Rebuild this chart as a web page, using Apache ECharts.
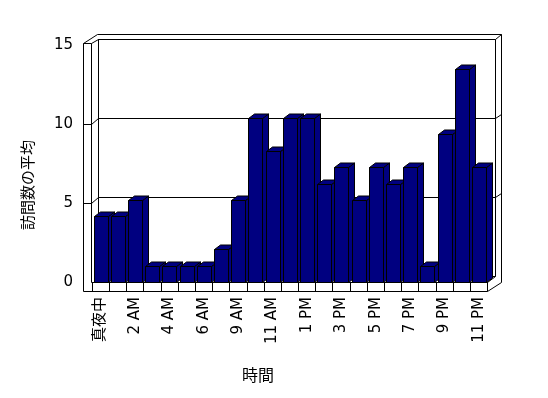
<!DOCTYPE html>
<html><head><meta charset="utf-8">
<script src="https://cdn.jsdelivr.net/npm/echarts@6/dist/echarts.min.js"></script>
<style>html,body{margin:0;padding:0;background:#fff}#c{width:548px;height:398px}</style>
</head><body><div id="c"></div>
<script>
const categories = ['真夜中','1 AM','2 AM','3 AM','4 AM','5 AM','6 AM','8 AM','9 AM','10 AM','11 AM','正午',
  '1 PM','2 PM','3 PM','4 PM','5 PM','6 PM','7 PM','8 PM','9 PM','10 PM','11 PM'];
const visits = [4,4,5,1,1,1,1,2,5,10,8,10,10,6,7,5,7,6,7,1,9,13,7];
const yTicks = [0,5,10,15];
const yTitle = '訪問数の平均';
const xTitle = '時間';

// frame layout (pixels)
const FL=83.5, FI=91.5, BL=98.5, BR=495.5, OR=501.5, FR=487.5;
const F0=282.5, F15=45.5, B0=276.5, B15=39.5, FLOOR=291.5, TOPO=34.5, LWTOP=43.5;
const yF = v => F0 - v*(F0-F15)/15;
const yB = v => B0 - v*(B0-B15)/15;
const DX=6, DY=-4.5;
const NAVY='#000080';

const lines = [];
function L(pts){ lines.push({type:'polyline', z:0, silent:true, shape:{points:pts}, style:{stroke:'#000', lineWidth:1, fill:null}}); }
// left wall front face
L([[FL,LWTOP],[FL,FLOOR]]);
L([[FI,LWTOP],[FI,F0]]);
L([[FL,LWTOP],[FI,LWTOP]]);
L([[FL,LWTOP],[BL-1,TOPO]]);
L([[FI,LWTOP],[BL,B15]]);
L([[BL-1,TOPO],[OR,TOPO]]);
// back wall
L([[BL,B15],[BR,B15]]);
L([[BL,B15],[BL,B0]]);
L([[BR,B15],[BR,B0]]);
L([[BR,B15],[OR,TOPO]]);
L([[OR,TOPO],[OR,F0]]);
// floor
L([[FL,FLOOR],[FR,FLOOR]]);
L([[FR,F0],[FR,FLOOR]]);
L([[FR,F0],[BR,B0]]);
L([[FR,FLOOR],[OR,F0]]);
// value ticks on walls
yTicks.forEach(v => {
  if (v>0 && v<15) {
    L([[FL,yF(v)],[FI,yF(v)]]);
    L([[FI,yF(v)],[BL,yB(v)]]);
    L([[BR,yB(v)],[OR,yB(v)-4]]);
  }
});

const chart = echarts.init(document.getElementById('c'), null, {renderer:'canvas'});
const numFont = {fontFamily:'DejaVu Sans', fontSize:15, color:'#000'};
chart.setOption({
  animation:false,
  backgroundColor:'#fff',
  grid:[
    {left:92, right:60.5, top:36, bottom:116},
    {left:98, right:52.5, top:39, bottom:121.5},
    {left:83, right:60.5, top:45, bottom:115.5}
  ],
  xAxis:[
    {type:'category', gridIndex:0, data:categories,
     axisLine:{show:true, lineStyle:{color:'#000', width:1}},
     axisTick:{show:true, interval:0, length:9, inside:false, lineStyle:{color:'#000'}},
     axisLabel:{interval:1, rotate:90, margin:15, ...numFont, fontFamily:'DejaVu Sans, Noto Sans CJK JP'},
     splitLine:{show:false}},
    {type:'value', gridIndex:1, show:false},
    {type:'value', gridIndex:2, show:false}
  ],
  yAxis:[
    {type:'value', gridIndex:0, min:0, max:15, show:false},
    {type:'value', gridIndex:1, min:0, max:15, interval:5,
     axisLine:{show:false}, axisTick:{show:false}, axisLabel:{show:false},
     splitLine:{show:true, lineStyle:{color:'#000', width:1}}},
    {type:'value', gridIndex:2, min:0, max:15, interval:5,
     axisLine:{show:false}, axisTick:{show:false}, splitLine:{show:false},
     axisLabel:{margin:10, ...numFont}}
  ],
  graphic: lines.concat([
    {type:'text', z:10, x:27, y:185, rotation:Math.PI/2,
     style:{text:yTitle, fontFamily:'Noto Sans CJK JP', fontSize:15, fill:'#000', align:'center', verticalAlign:'middle'}},
    {type:'text', z:10, x:258, y:375,
     style:{text:xTitle, fontFamily:'Noto Sans CJK JP', fontSize:16, fill:'#000', align:'center', verticalAlign:'middle'}}
  ]),
  series:[{
    type:'custom', xAxisIndex:0, yAxisIndex:0, z:5,
    data: visits.map((v,i)=>[i,v]),
    encode:{x:0, y:1},
    renderItem:(params, api) => {
      const i = api.value(0), v = api.value(1);
      const top = api.coord([i, v]);
      const base = api.coord([i, 0]);
      const bw = api.size([1,0])[0];
      const w = Math.round(bw*0.84);
      const x0 = Math.round(top[0] - w/2) + 0.5;
      const ty = Math.round(top[1]) + 0.5;
      const by = Math.round(base[1]) + 0.5;
      const st = {fill:NAVY, stroke:'#000', lineWidth:1};
      return {type:'group', children:[
        {type:'polygon', shape:{points:[[x0+w,ty],[x0+w+DX,ty+DY],[x0+w+DX,by+DY],[x0+w,by]]}, style:st},
        {type:'polygon', shape:{points:[[x0,ty],[x0+w,ty],[x0+w+DX,ty+DY],[x0+DX,ty+DY]]}, style:st},
        {type:'rect', shape:{x:x0, y:ty, width:w, height:by-ty}, style:st}
      ]};
    }
  }]
});
</script></body></html>
